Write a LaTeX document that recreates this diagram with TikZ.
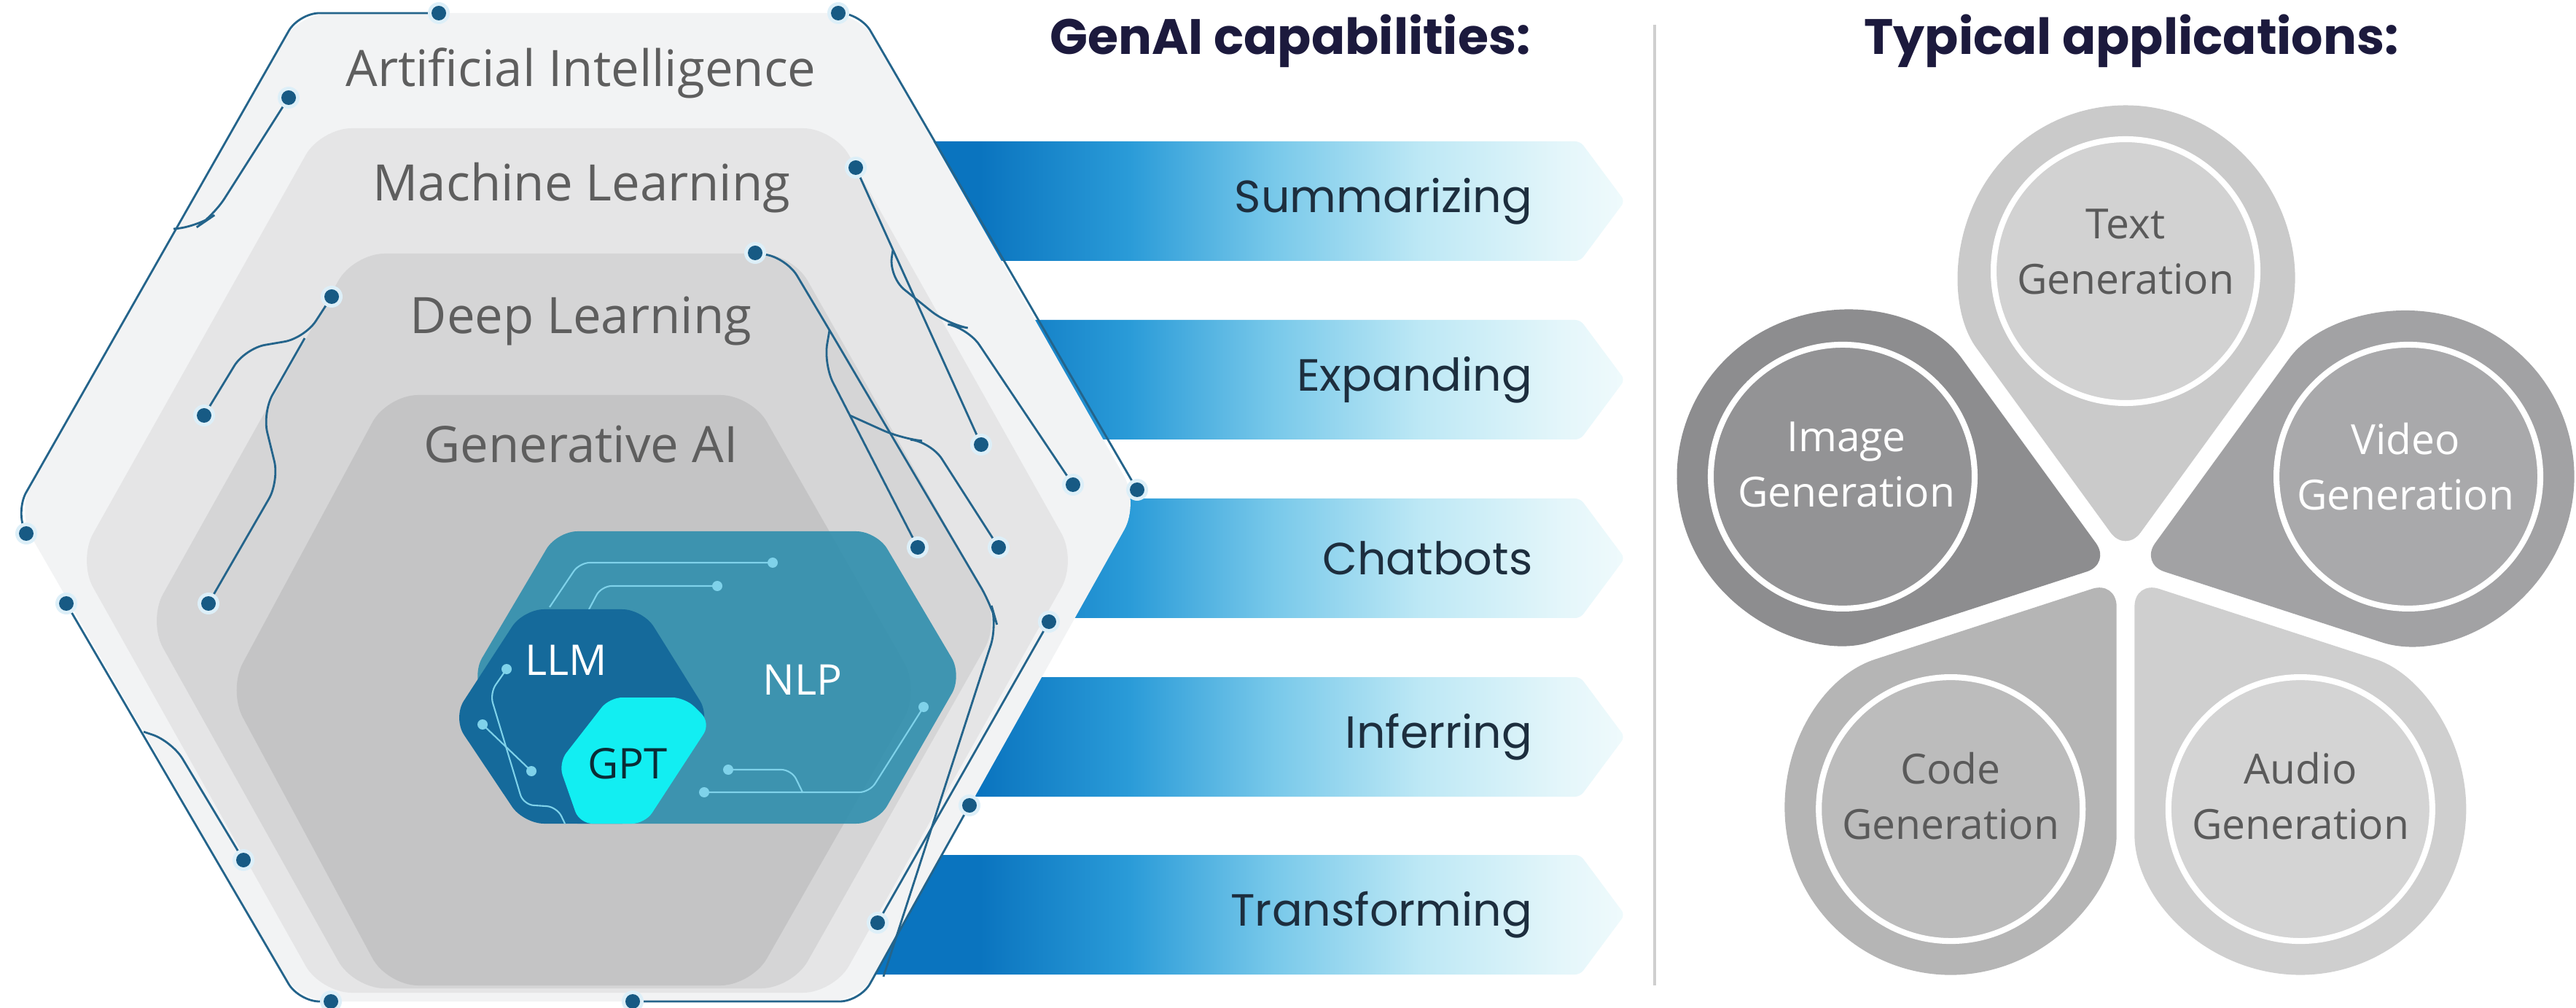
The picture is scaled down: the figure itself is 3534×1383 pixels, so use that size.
\documentclass[tikz,border=0pt]{standalone}
\usepackage{fontspec}
\setmainfont{Open Sans}
\newfontfamily\popfont{Poppins}
\usetikzlibrary{calc}

\definecolor{circ}{HTML}{24648B}
\definecolor{dotc}{HTML}{175A84}
\definecolor{halo}{HTML}{DDEFF8}
\definecolor{aiF}{HTML}{F2F3F4}
\definecolor{mlF}{HTML}{E5E5E6}
\definecolor{dlF}{HTML}{D5D5D6}
\definecolor{gaF}{HTML}{C4C4C5}
\definecolor{hexT}{HTML}{5E5E5E}
\definecolor{nlpF}{HTML}{2B8DAC}
\definecolor{llmF}{HTML}{156A9B}
\definecolor{gptF}{HTML}{12EEF2}
\definecolor{gptT}{HTML}{0B2B35}
\definecolor{inl}{HTML}{7FD2EA}
\definecolor{b0}{HTML}{0A74BF}
\definecolor{b1}{HTML}{2A9BD8}
\definecolor{b2}{HTML}{79C9EA}
\definecolor{b3}{HTML}{BDE8F5}
\definecolor{b4}{HTML}{E4F6FA}
\definecolor{b5}{HTML}{EFFAFC}
\definecolor{capT}{HTML}{1D2E3E}
\definecolor{headT}{HTML}{1C1A3D}
\definecolor{divC}{HTML}{CFCFCF}
\definecolor{petT}{HTML}{5A5A5A}
\definecolor{petA}{HTML}{CACACA}
\definecolor{petAi}{HTML}{D2D2D2}
\definecolor{petB}{HTML}{8D8D8F}
\definecolor{petBi}{HTML}{939395}
\definecolor{petC}{HTML}{A2A2A4}
\definecolor{petCi}{HTML}{A9A9AB}
\definecolor{petD}{HTML}{B5B5B5}
\definecolor{petDi}{HTML}{BCBCBC}
\definecolor{petE}{HTML}{CFCFCF}
\definecolor{petEi}{HTML}{D4D4D4}

\pgfdeclarehorizontalshading{bandshade}{100bp}{color(0bp)=(b0); color(34bp)=(b0); color(43.5bp)=(b1); color(52.8bp)=(b2); color(62bp)=(b3); color(71bp)=(b4); color(75bp)=(b5); color(100bp)=(b5)}

\tikzset{
  hexlabel/.style={font=\fontsize{19.6}{23}\selectfont, text=hexT, inner sep=0pt},
  captext/.style={font=\popfont\fontsize{17.6}{21}\selectfont, text=capT, anchor=east, inner sep=0pt},
  heading/.style={font=\popfont\bfseries\fontsize{19.4}{23}\selectfont, text=headT, inner sep=0pt},
  petlabel/.style={font=\fontsize{16.2}{21.6}\selectfont, align=center, inner sep=0pt},
  innerlabel/.style={font=\fontsize{16.5}{20}\selectfont, inner sep=0pt},
  circline/.style={draw=circ, line width=0.8pt, rounded corners=8pt},
  inline/.style={draw=inl, line width=0.6pt, rounded corners=4pt},
  hexshape/.style={rounded corners=12pt}
}

\begin{document}
\begin{tikzpicture}[x=0.01cm,y=-0.01cm]
\useasboundingbox (0,0) rectangle (3534,1383);
\fill[white] (0,0) rectangle (3534,1383);

% ---------- capability bands ----------
\foreach \yc/\txt in {276/Summarizing,521/Expanding,766/Chatbots,1011/Inferring,1255/Transforming} {
  \shade[shading=bandshade, rounded corners=2pt] (1150,\yc-82) -- (2168,\yc-82) -- (2229,\yc) -- (2168,\yc+82) -- (1150,\yc+82) -- cycle;
  \node[captext] (cap\txt) at (2103,\yc) {\txt};
}

% ---------- nested hexagons ----------
\fill[aiF, hexshape] (410,18) -- (1180,18) -- (1563,690) -- (1180,1374) -- (410,1374) -- (22,700) -- cycle;
\fill[mlF, hexshape] (440,176) -- (1144,176) -- (1477,769) -- (1144,1362) -- (440,1362) -- (107,769) -- cycle;
\fill[dlF, hexshape] (485,348) -- (1087,348) -- (1372,852) -- (1087,1356) -- (485,1356) -- (203,852) -- cycle;
\fill[gaF, hexshape] (531,542) -- (1031,542) -- (1262,947) -- (1031,1352) -- (531,1352) -- (313,947) -- cycle;

% ---------- NLP / LLM / GPT ----------
\fill[nlpF, opacity=0.88, rounded corners=8pt] (764,729) -- (1203,729) -- (1320,927) -- (1203,1130) -- (764,1130) -- (647,927) -- cycle;
\draw[inline] (1060,772) -- (795,772) -- (754,833);
\draw[inline] (984,804) -- (825,804) -- (808,836);
\draw[inline] (999,1056) -- (1086,1056) -- (1101,1087);
\draw[inline] (966,1087) -- (1193,1087) -- (1267,970);
\fill[llmF, rounded corners=8pt] (718,836) -- (882,836) -- (975,985) -- (882,1130) -- (718,1130) -- (621,985) -- cycle;
\draw[inline] (695,918) -- (672,951) -- (718,1104) -- (764,1107) -- (775,1130);
\draw[inline] (662,994) -- (729,1058);
\fill[gptF, rounded corners=5pt] (836,957) -- (940,957) -- (975,992) -- (885,1130) -- (795,1130) -- (766,1047) -- cycle;
\foreach \x/\y in {1060/772,984/804,999/1056,966/1087,1267/970,695/918,662/994,729/1058} {
  \fill[inl] (\x,\y) circle[radius=7];
}
\node[innerlabel, text=white] (llm) at (777,906) {LLM};
\node[innerlabel, text=white] (nlp) at (1101,933) {NLP};
\node[innerlabel, text=gptT] (gpt) at (861,1048) {GPT};

% ---------- circuit lines ----------
\draw[circline] (602,18) -- (410,18) -- (22,700) -- (36,732);
\draw[circline] (1150,18) -- (1180,18) -- (1560,672);
\draw[circline] (91,828) -- (410,1374) -- (454,1374);
\draw[circline] (197,1004) -- (236,1017) -- (334,1180);
\draw[circline] (1330,1105) -- (1180,1374) -- (868,1374);
\draw[circline] (396,134) -- (293,296) -- (271,311) -- (238,314);
\draw[circline] (455,407) -- (418,464) -- (336,478) -- (280,570);
\draw[circline] (418,464) -- (360,566) -- (383,660) -- (286,828);
\draw[circline] (1174,230) -- (1346,610);
\draw[circline] (1225,343) -- (1219,380) -- (1300,445) -- (1328,450) -- (1472,665);
\draw[circline] (1036,347) -- (1079,354) -- (1138,453) -- (1360,830) -- (1368,858) -- (1212,1340);
\draw[circline] (1138,453) -- (1130,500) -- (1259,751);
\draw[circline] (1166,570) -- (1237,602) -- (1277,606) -- (1370,751);
\draw[circline] (1439,853) -- (1204,1266);
\foreach \x/\y in {602/18,1150/18,396/134,1174/230,1036/347,455/407,280/570,1346/610,1472/665,1560/672,36/732,1259/751,1370/751,91/828,286/828,1439/853,1330/1105,334/1180,1204/1266,454/1374,868/1374} {
  \fill[halo] (\x,\y) circle[radius=15];
  \fill[dotc] (\x,\y) circle[radius=10];
}

% ---------- hex labels ----------
\node[hexlabel] (ai) at (797,100) {Artificial Intelligence};
\node[hexlabel] (ml) at (798,258) {Machine Learning};
\node[hexlabel] (dl) at (797,440) {Deep Learning};
\node[hexlabel] (ga) at (797,610) {Generative AI};

% ---------- headings and divider ----------
\node[heading] (h1) at (1770,56) {GenAI capabilities:};
\node[heading] (h2) at (2924,56) {Typical applications:};
\coordinate (dtop) at (2270,34);
\coordinate (dbot) at (2270,1352);
\draw[divC, line width=1.1pt] (dtop) -- (dbot);

% ---------- petals ----------
\begin{scope}[shift={(2916,780)}, yscale=-1]
\foreach \ang/\fc/\ic/\nm in {90/petA/petAi/pText,162/petB/petBi/pImage,18/petC/petCi/pVideo,234/petD/petDi/pCode,306/petE/petEi/pAudio} {
  \fill[\fc, rounded corners=10pt] (\ang:21) -- ($(\ang:408)+(\ang-126:227.5)$) arc[start angle=\ang-126, end angle=\ang+126, radius=227.5] -- cycle;
  \fill[\ic] (\ang:408) circle[radius=181];
  \draw[white, line width=2.3pt] (\ang:408) circle[radius=181];
  \coordinate (\nm) at (\ang:408);
}
\end{scope}
\node[petlabel, text=petT] (tText) at (2916,345) {Text\\Generation};
\node[petlabel, text=white] (tImage) at (2533,637) {Image\\Generation};
\node[petlabel, text=white] (tVideo) at (3300,640) {Video\\Generation};
\node[petlabel, text=petT] (tCode) at (2676,1092) {Code\\Generation};
\node[petlabel, text=petT] (tAudio) at (3156,1092) {Audio\\Generation};
\end{tikzpicture}
\end{document}
